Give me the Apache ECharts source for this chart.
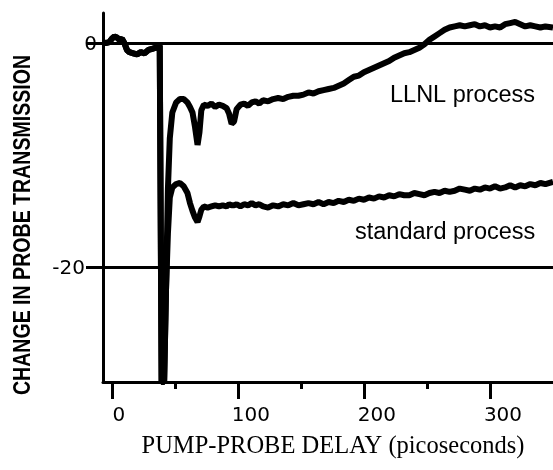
<!DOCTYPE html>
<html>
<head>
<meta charset="utf-8">
<script src="https://cdn.jsdelivr.net/npm/echarts@6/dist/echarts.min.js"></script>
<style>
  html, body { margin: 0; padding: 0; background: #fff; }
  #main { width: 553px; height: 470px; }
</style>
</head>
<body>
<div id="main"></div>
<script>
// pump-probe delay in picoseconds
const delays = [-7, -5, -2, 0, 2, 4, 6, 8, 10, 12, 14, 17, 20, 23, 26, 29, 32, 35, 38, 39.5, 41.5, 43,
  44.5, 46, 48, 51, 54, 57, 60, 62, 64, 66, 68, 69.5, 71, 73, 76, 79, 82, 85, 88, 91, 93, 95, 97, 99,
  102, 105, 108, 111, 114, 117, 120, 124, 128, 132, 136, 140, 144, 148, 152, 156, 160, 164, 168,
  172, 176, 180, 184, 188, 192, 196, 200, 204, 208, 212, 216, 220, 224, 228, 232, 236, 240, 244,
  248, 252, 256, 260, 264, 268, 272, 276, 280, 284, 288, 292, 296, 300, 304, 308, 312, 316, 320,
  324, 328, 332, 336, 340, 344, 350];

const llnlValues = [0.1, 0.0, 0.1, 0.4, 0.6, 0.5, 0.3, 0.4, 0.0, -0.6, -0.8, -0.9, -1.0, -0.8, -0.9, -0.6, -0.5, -0.4, -0.2, -30.3, -30.3, -22,
  -13, -8.5, -6.2, -5.3, -5.0, -5.0, -5.3, -5.7, -6.2, -7.5, -9.1, -8.0, -6.0, -5.5, -5.6, -5.4, -5.7, -5.5, -5.6, -5.8, -6.3, -7.2, -7.0, -5.9,
  -5.5, -5.4, -5.6, -5.3, -5.2, -5.4, -5.1, -5.2, -5.0, -4.9, -5.0, -4.8, -4.7, -4.7, -4.6, -4.4, -4.5, -4.3, -4.2,
  -4.1, -4.0, -3.8, -3.6, -3.3, -3.0, -2.9, -2.6, -2.4, -2.2, -2.0, -1.8, -1.6, -1.3, -1.1, -0.9, -0.8, -0.6, -0.4,
  -0.1, 0.3, 0.6, 0.9, 1.2, 1.4, 1.5, 1.6, 1.5, 1.6, 1.7, 1.5, 1.6, 1.4, 1.5, 1.4, 1.7, 1.8, 1.9,
  1.7, 1.5, 1.6, 1.5, 1.4, 1.5, 1.4];

const standardValues = [0.1, 0.0, 0.1, 0.4, 0.6, 0.5, 0.3, 0.4, 0.0, -0.6, -0.8, -0.9, -1.0, -0.8, -0.9, -0.6, -0.5, -0.4, -0.2, -30.3, -30.3, -22,
  -17, -13.8, -12.9, -12.6, -12.5, -12.8, -13.4, -14.3, -15.0, -15.6, -16.0, -15.5, -14.9, -14.6, -14.7, -14.6, -14.5, -14.6, -14.5, -14.6, -14.4, -14.5, -14.5, -14.4,
  -14.6, -14.4, -14.5, -14.3, -14.5, -14.4, -14.6, -14.7, -14.5, -14.6, -14.4, -14.5, -14.3, -14.5, -14.4, -14.3, -14.4, -14.2, -14.4,
  -14.2, -14.3, -14.1, -14.2, -14.0, -14.1, -13.9, -14.0, -13.8, -13.9, -13.7, -13.8, -13.6, -13.7, -13.5, -13.6, -13.6, -13.4, -13.5,
  -13.6, -13.4, -13.3, -13.4, -13.2, -13.3, -13.2, -13.0, -13.1, -13.2, -13.0, -13.1, -12.9, -13.0, -12.8, -13.0, -12.9, -12.7, -12.9,
  -12.7, -12.8, -12.6, -12.7, -12.5, -12.6, -12.4];

const xTickValues = [0, 100, 200, 300];
const yTickValues = [0, -20];
const referenceLevels = [0, -20];

const chartDom = document.getElementById('main');
const myChart = echarts.init(chartDom, null, { renderer: 'canvas' });

const ink = '#000';
const tickFont = 'DejaVu Sans';

const option = {
  backgroundColor: '#fff',
  animation: false,
  grid: { left: 103, right: 0, top: 13, bottom: 88, containLabel: false },
  xAxis: {
    type: 'value',
    min: -7,
    max: 350,
    position: 'bottom',
    axisLine: { show: true, onZero: false, lineStyle: { color: ink, width: 3 } },
    axisTick: { show: true, inside: false, customValues: xTickValues, length: 17, lineStyle: { color: ink, width: 3 } },
    // short unlabeled ticks at 50, 150, 250
    minorTick: { show: true, splitNumber: 2, length: 7, lineStyle: { color: ink, width: 3 } },
    axisLabel: {
      customValues: xTickValues,
      margin: 24,
      formatter: v => (v === 0 ? '{z|0}' : '{n|' + v + '}'),
      rich: {
        z: { color: ink, fontSize: 20, fontFamily: tickFont, padding: [0, 0, 0, 14] },
        n: { color: ink, fontSize: 20, fontFamily: tickFont, padding: [0, 0, 0, 26] }
      }
    },
    splitLine: { show: false }
  },
  yAxis: {
    type: 'value',
    min: -30.3,
    max: 2.7,
    position: 'left',
    axisLine: { show: true, onZero: false, lineStyle: { color: ink, width: 3 } },
    axisTick: { show: true, inside: false, customValues: yTickValues, length: 17, lineStyle: { color: ink, width: 3 } },
    axisLabel: {
      customValues: yTickValues,
      margin: 6,
      formatter: v => (v === 0 ? '{z|0}' : '{n|' + v + '}'),
      rich: {
        z: { color: ink, fontSize: 20, fontFamily: tickFont, padding: [4, 0, 0, 0] },
        n: { color: ink, fontSize: 20, fontFamily: tickFont, padding: [4, 12, 0, 0] }
      }
    },
    splitLine: { show: false }
  },
  graphic: [
    {
      type: 'text',
      x: 23,
      y: 225,
      rotation: Math.PI / 2,
      scaleX: 0.815,
      style: {
        text: 'CHANGE IN PROBE TRANSMISSION',
        fill: ink,
        font: 'bold 24px "Liberation Sans", sans-serif',
        align: 'center',
        verticalAlign: 'middle'
      }
    },
    {
      type: 'text',
      x: 333,
      y: 447,
      style: {
        text: 'PUMP-PROBE DELAY (picoseconds)',
        fill: ink,
        font: '24.5px "Liberation Serif", serif',
        align: 'center',
        verticalAlign: 'middle'
      }
    },
    {
      type: 'text',
      x: 390,
      y: 84,
      style: { text: 'LLNL process', fill: ink, font: '23.5px "Liberation Sans", sans-serif', align: 'left', verticalAlign: 'top' }
    },
    {
      type: 'text',
      x: 355,
      y: 221,
      style: { text: 'standard process', fill: ink, font: '23.5px "Liberation Sans", sans-serif', align: 'left', verticalAlign: 'top' }
    }
  ],
  series: [
    {
      name: 'LLNL process',
      type: 'line',
      data: delays.map((d, i) => [d, llnlValues[i]]),
      showSymbol: false,
      lineStyle: { color: ink, width: 6 },
      markLine: {
        silent: true,
        symbol: ['none', 'none'],
        label: { show: false },
        lineStyle: { color: ink, width: 3, type: 'solid' },
        data: referenceLevels.map(v => ({ yAxis: v }))
      }
    },
    {
      name: 'standard process',
      type: 'line',
      data: delays.map((d, i) => [d, standardValues[i]]),
      showSymbol: false,
      lineStyle: { color: ink, width: 6 }
    }
  ]
};

myChart.setOption(option);
window.addEventListener('resize', () => myChart.resize());
</script>
</body>
</html>
